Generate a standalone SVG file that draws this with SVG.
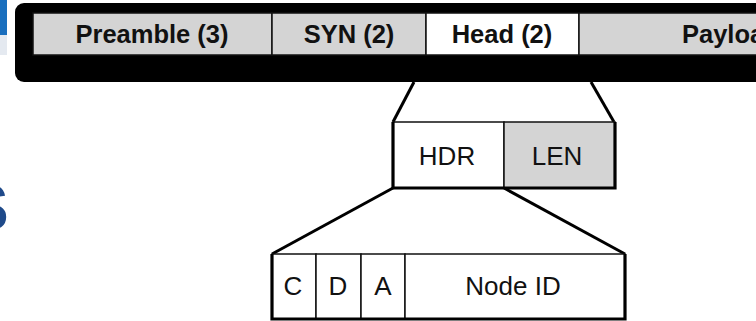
<svg xmlns="http://www.w3.org/2000/svg" width="756" height="321" viewBox="0 0 756 321">
<style>
.cell{stroke:#111;stroke-width:1.5}
.gray{fill:#d4d4d4}
.white{fill:#fff}
.thick{fill:none;stroke:#000;stroke-width:3.2;stroke-linejoin:miter}
.conn{fill:none;stroke:#000;stroke-width:3}
.tb{font-family:"Liberation Sans",Arial,sans-serif;font-weight:bold;font-size:25.5px;fill:#111;text-anchor:middle}
.tr{font-family:"Liberation Sans",Arial,sans-serif;font-size:26px;fill:#111;text-anchor:middle}
</style>
<rect width="756" height="321" fill="#fff"/>
<g id="slide-bits">
<rect x="0" y="0" width="7" height="35" fill="#1a6fbe"/>
<rect x="0" y="35" width="7" height="20" fill="#e4e9f0"/>
<text x="-34" y="230" font-family="Liberation Sans,Arial,sans-serif" font-weight="bold" font-size="64" fill="#1f4a8a">S</text>
</g>
<g id="frame-bar">
<rect x="15" y="3" width="760" height="79" rx="9" fill="#000"/>
</g>
<g id="preamble">
<rect class="cell gray" x="33" y="13" width="239" height="42"/>
<text class="tb" x="152" y="43">Preamble (3)</text>
</g>
<g id="syn">
<rect class="cell gray" x="272" y="13" width="154" height="42"/>
<text class="tb" x="349" y="43">SYN (2)</text>
</g>
<g id="head">
<rect class="cell white" x="426" y="13" width="153" height="42"/>
<text class="tb" x="502" y="43">Head (2)</text>
</g>
<g id="payload">
<rect class="cell gray" x="579" y="13" width="200" height="42"/>
<text class="tb" x="682" y="43" style="text-anchor:start">Payload</text>
</g>
<g id="connectors">
<line class="conn" x1="414" y1="82" x2="393" y2="122"/>
<line class="conn" x1="591" y1="82" x2="614" y2="122"/>
<line class="conn" x1="393" y1="188" x2="272" y2="254"/>
<line class="conn" x1="504" y1="188" x2="625" y2="254"/>
</g>
<g id="hdr">
<rect class="cell white" x="393" y="122" width="111" height="66"/>
<text class="tr" x="447" y="165">HDR</text>
</g>
<g id="len">
<rect class="cell gray" x="504" y="122" width="111" height="66"/>
<text class="tr" x="557" y="165">LEN</text>
</g>
<polyline class="thick" points="393,122 393,188 615,188 615,122"/>
<g id="c">
<rect class="cell white" x="272" y="254" width="44" height="65"/>
<text class="tr" x="293" y="295">C</text>
</g>
<g id="d">
<rect class="cell white" x="316" y="254" width="45" height="65"/>
<text class="tr" x="338" y="295">D</text>
</g>
<g id="a">
<rect class="cell white" x="361" y="254" width="44" height="65"/>
<text class="tr" x="383" y="295">A</text>
</g>
<g id="node-id">
<rect class="cell white" x="405" y="254" width="220" height="65"/>
<text class="tr" x="513" y="295">Node ID</text>
</g>
<polyline class="thick" points="272,254 272,319 625,319 625,254"/>
</svg>
